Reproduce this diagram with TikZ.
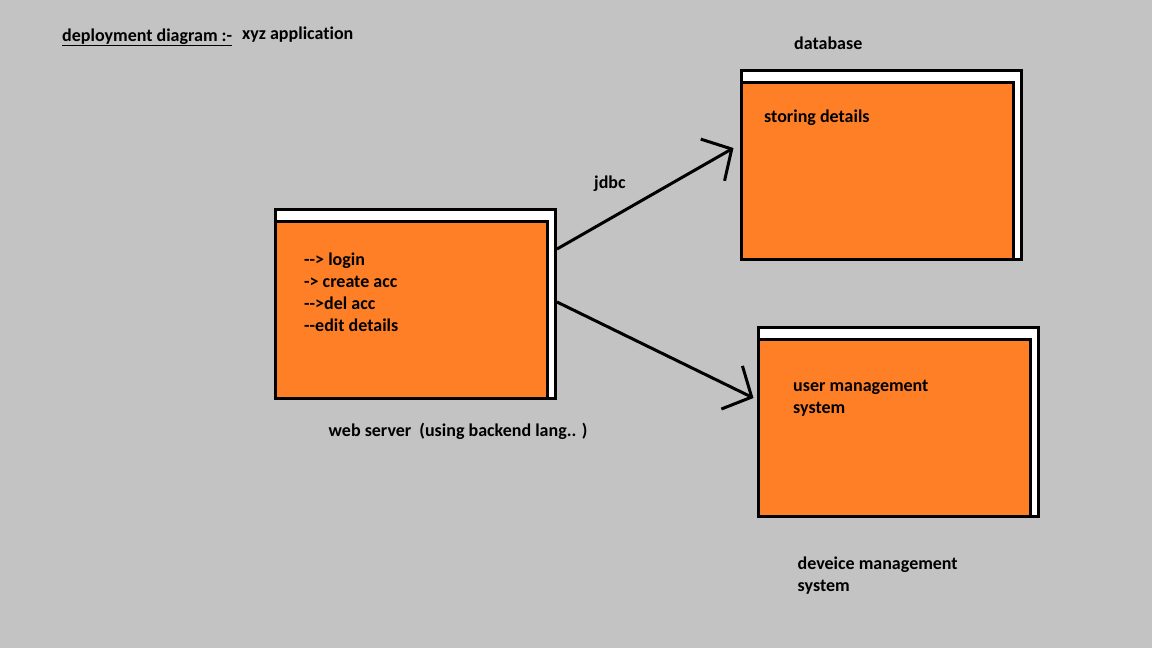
\documentclass[tikz,border=0pt]{standalone}
\usepackage{fontspec}
\setmainfont{Carlito}[Ligatures={TeXOff,NoCommon}]
\usetikzlibrary{positioning,arrows.meta}

\definecolor{paintgray}{RGB}{195,195,195}
\definecolor{paintorange}{RGB}{255,127,39}

\tikzset{
	outerbox/.style={draw, line width=3pt, fill=white, inner sep=0pt,
		minimum width=280pt, minimum height=189pt},
	innerbox/.style={draw, line width=3pt, fill=paintorange, inner sep=0pt,
		minimum width=272pt, minimum height=177pt, anchor=south west},
	lbl/.style={font=\bfseries\fontsize{18}{22}\selectfont, inner sep=0pt, align=left},
	link/.style={line width=3pt, -{Straight Barb[length=22pt, width=48pt]}}
}

\begin{document}
\begin{tikzpicture}[x=1pt, y=-1pt]
		% fond
		\fill[paintgray] (0, 0) rectangle (1152, 648);
		\useasboundingbox (0, 0) rectangle (1152, 648);

		% titre
		\node[lbl, anchor=base west] (title) at (62, 41) {\underline{deployment diagram :-}};
		\node[lbl, anchor=base west] (appname) at (242, 39.5) {xyz application};

		% web server
		\node[outerbox] (ws) at (415.5, 304) {};
		\node[innerbox] (wsin) at (ws.south west) {};
		\node[lbl, anchor=north west] (wslist) at ([xshift=30pt, yshift=-33pt]wsin.north west)
			{--> login\\-> create acc\\-->del acc\\--edit details};
		\node[lbl, anchor=north west] (wsname) at ([xshift=54.5pt, yshift=-23pt]ws.south west)
			{web server~~(using backend lang.. )};

		% database
		\node[outerbox] (db) at (881.5, 164.5) {};
		\node[innerbox] (dbin) at (db.south west) {};
		\node[lbl, anchor=north west] (dbtext) at ([xshift=24pt, yshift=-29pt]dbin.north west)
			{storing details};
		\node[lbl, anchor=north west] (dbname) at ([xshift=54pt, yshift=32pt]db.north west)
			{database};

		% user management system
		\node[outerbox] (ums) at (898.5, 422) {};
		\node[innerbox] (umsin) at (ums.south west) {};
		\node[lbl, anchor=north west] (umstext) at ([xshift=36pt, yshift=-42pt]umsin.north west)
			{user management\\system};
		\node[lbl, anchor=north west] (umsname) at ([xshift=40.5pt, yshift=-39pt]ums.south west)
			{deveice management\\system};

		% liens
		\draw[link] ([yshift=55pt]ws.east) -- ([xshift=-6.5pt, yshift=16.5pt]db.west)
			node[lbl, pos=.3, above=26pt] (jdbc) {jdbc};
		\draw[link] ([yshift=2pt]ws.east) -- ([xshift=-3.5pt, yshift=24pt]ums.west);

		\end{tikzpicture}
\end{document}
